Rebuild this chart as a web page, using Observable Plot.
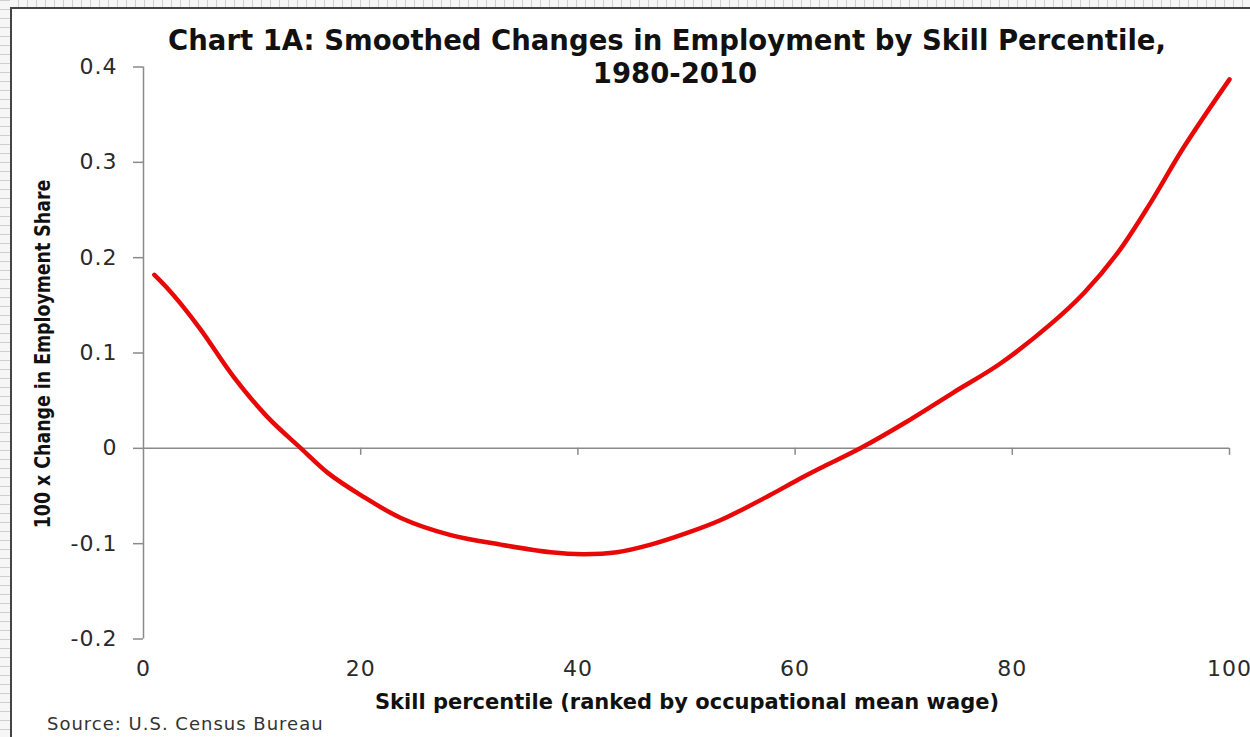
<!DOCTYPE html>
<html>
<head>
<meta charset="utf-8">
<script src="https://cdn.jsdelivr.net/npm/d3@7"></script>
<script src="https://cdn.jsdelivr.net/npm/@observablehq/plot@0.6"></script>
<style>
  html, body { margin: 0; padding: 0; background: #fff; }
  #wrap { position: relative; width: 1250px; height: 737px; overflow: hidden; background: #f3f3f3; }
  .ruler-top { position: absolute; left: 0; top: 0; width: 1250px; height: 7px;
    background: repeating-linear-gradient(90deg, #cfcfcf 0 1px, #f6f6f6 1px 9px); }
  .ruler-left { position: absolute; left: 0; top: 0; width: 10px; height: 737px;
    background: repeating-linear-gradient(180deg, #cfcfcf 0 1px, #f6f6f6 1px 9px); }
  .frame { position: absolute; left: 10px; top: 7px; right: -4px; bottom: -4px;
    background: #fff; border-left: 2px solid #444; border-top: 2px solid #444; }
  #chart { position: absolute; left: 0; top: 0; }
  #chart svg { background: transparent !important; }
</style>
</head>
<body>
<div id="wrap">
  <div class="ruler-top"></div>
  <div class="ruler-left"></div>
  <div class="frame"></div>
  <div id="chart"></div>
</div>
<script>
// ---- data ----
const percentile = [1, 2.2, 3.4, 5.3, 8.3, 11.4, 14.5, 17, 20, 23.7, 28.3, 32.9, 37.5, 40.5, 43.6, 46.7, 50, 53.1, 57.7, 60.1, 62.3, 66, 70, 74.5, 78.9, 83.5, 86.6, 89.7, 92.7, 95.8, 100];
const change = [0.182, 0.168, 0.152, 0.124, 0.075, 0.033, 0, -0.026, -0.049, -0.073, -0.091, -0.101, -0.109, -0.111, -0.109, -0.101, -0.089, -0.0755, -0.049, -0.034, -0.021, 0, 0.026, 0.058, 0.089, 0.130, 0.163, 0.205, 0.257, 0.316, 0.387];
const xTicks = [0, 20, 40, 60, 80, 100];
const yTicks = [-0.2, -0.1, 0, 0.1, 0.2, 0.3, 0.4];
const titleLines = ["Chart 1A: Smoothed Changes in Employment by Skill Percentile,", "1980-2010"];
const xLabel = "Skill percentile (ranked by occupational mean wage)";
const yLabel = "100 x Change in Employment Share";
const source = "Source: U.S. Census Bureau";

const data = percentile.map((p, i) => ({p, v: change[i]}));
const axisGray = "#8a8a8a";

const plot = Plot.plot({
  width: 1250,
  height: 737,
  marginLeft: 143,
  marginRight: 21,
  marginTop: 66.5,
  marginBottom: 98.5,
  style: {background: "transparent", fontFamily: "DejaVu Sans", fontSize: "22px", overflow: "visible"},
  x: {domain: [0, 100]},
  y: {domain: [-0.2, 0.4]},
  marks: [
    Plot.ruleX([0], {stroke: axisGray, strokeWidth: 1.5}),
    Plot.ruleY([0], {stroke: axisGray, strokeWidth: 1.5}),
    Plot.ruleX(xTicks.filter(d => d > 0), {x: d => d, y1: 0, y2: 0, insetBottom: -7, stroke: axisGray, strokeWidth: 1.5}),
    Plot.axisY(yTicks, {anchor: "left", tickSize: 10, tickPadding: 16, stroke: axisGray, strokeWidth: 1.5, fill: "#2a2a2a",
      tickFormat: d => d === 0 ? "0" : d.toFixed(1), label: null, fontSize: 22}),
    Plot.axisX(xTicks, {anchor: "bottom", tickSize: 0, tickPadding: 21, fill: "#2a2a2a",
      tickFormat: d => String(d), label: null, fontSize: 22}),
    Plot.line(data, {x: "p", y: "v", stroke: "#e80808", strokeWidth: 4.5, curve: "catmull-rom", strokeLinecap: "round"})
  ]
});
document.getElementById("chart").appendChild(plot);

const svg = d3.select(plot);
svg.selectAll("g[aria-label='y-axis tick label'] text, g[aria-label='x-axis tick label'] text")
  .style("letter-spacing", "1px");

const tg = svg.append("g").attr("font-family", "'DejaVu Sans', sans-serif").attr("fill", "#111");
tg.append("text").attr("x", 667).attr("y", 50).attr("text-anchor", "middle")
  .attr("font-size", 27.5).attr("font-weight", 700).text(titleLines[0]);
tg.append("text").attr("x", 675).attr("y", 83).attr("text-anchor", "middle")
  .attr("font-size", 27.5).attr("font-weight", 700).text(titleLines[1]);
tg.append("text").attr("x", 687).attr("y", 709).attr("text-anchor", "middle")
  .attr("font-size", 21).attr("font-weight", 700).text(xLabel);
tg.append("text").attr("x", 47).attr("y", 730).attr("text-anchor", "start")
  .attr("font-size", 18).attr("font-weight", 400).attr("fill", "#333").style("letter-spacing", "1px").text(source);
tg.append("text").attr("transform", "translate(50,354) rotate(-90) scale(0.79,1)").attr("text-anchor", "middle")
  .attr("font-size", 22).attr("font-weight", 700).text(yLabel);
</script>
</body>
</html>
